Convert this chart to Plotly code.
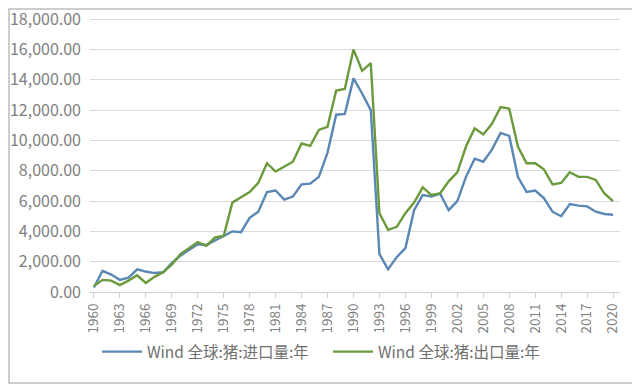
import plotly.graph_objects as go

years = list(range(1960, 2021))

import_vals = [300, 1400, 1150, 800, 950, 1500, 1350, 1250, 1300, 1900,
               2400, 2750, 3150, 3100, 3400, 3700, 4000, 3950, 4900, 5300,
               6600, 6700, 6100, 6300, 7100, 7150, 7600, 9200, 11700, 11750,
               14100, 13100, 12000, 2500, 1500, 2300, 2900, 5400, 6400, 6300,
               6500, 5400, 6000, 7600, 8800, 8600, 9400, 10500, 10300, 7600,
               6600, 6700, 6200, 5300, 5000, 5800, 5700, 5650, 5300, 5150,
               5100]

export_vals = [400, 800, 750, 450, 750, 1100, 600, 1000, 1300, 1800,
               2500, 2900, 3300, 3050, 3600, 3700, 5900, 6250, 6600, 7200,
               8500, 7950, 8300, 8600, 9800, 9650, 10700, 10900, 13300, 13400,
               16000, 14600, 15100, 5200, 4100, 4300, 5200, 5900, 6900, 6400,
               6500, 7300, 7900, 9600, 10800, 10400, 11100, 12200, 12100, 9600,
               8500, 8500, 8100, 7100, 7200, 7900, 7600, 7600, 7400, 6500,
               6000]

series_names = ["Wind 全球:猪:进口量:年", "Wind 全球:猪:出口量:年"]
x_ticks = list(range(1960, 2021, 3))
y_ticks = list(range(0, 18001, 2000))

font_family = "Noto Sans CJK SC, Noto Sans, sans-serif"
grey = "#808080"

fig = go.Figure()
fig.add_trace(go.Scatter(x=years, y=import_vals, mode="lines", name=series_names[0],
                         line=dict(color="#5a87b4", width=2.4)))
fig.add_trace(go.Scatter(x=years, y=export_vals, mode="lines", name=series_names[1],
                         line=dict(color="#6b9a3c", width=2.4)))

fig.update_layout(
    width=632, height=376,
    margin=dict(l=82, r=20, t=9, b=92, autoexpand=False),
    paper_bgcolor="white", plot_bgcolor="white",
    font=dict(family=font_family, size=13, color=grey),
    showlegend=True,
    legend=dict(orientation="h", x=(97 - 90) / 530, xanchor="left",
                y=-60 / 275, yanchor="middle", bgcolor="rgba(0,0,0,0)",
                font=dict(size=15.5, color="#707070"), itemwidth=40,
                entrywidth=176, entrywidthmode="pixels",
                traceorder="normal"),
    xaxis=dict(range=[1959.55, 2020.8], tickmode="array", tickvals=x_ticks,
               ticktext=[str(t) for t in x_ticks], tickangle=-90,
               showgrid=False, zeroline=False, showline=True, linecolor="#d0d0d0",
               linewidth=1, ticks="outside", ticklen=5, tickcolor="#d0d0d0",
               tickfont=dict(size=13.5, color=grey), automargin=False),
    yaxis=dict(range=[0, 18150], tickmode="array", tickvals=y_ticks,
               tickformat=",.2f", showgrid=True, gridcolor="#d9d9d9", gridwidth=1,
               zeroline=False, showline=False, ticks="", ticklen=0,
               ticklabelstandoff=8, ticklabeloverflow="allow",
               tickfont=dict(size=16, color=grey), automargin=False),
    shapes=[dict(type="rect", xref="paper", yref="paper",
                 x0=-81 / 530, x1=1 + 18 / 530, y0=-91 / 275, y1=1 + 8 / 275,
                 line=dict(color="#bdbdbd", width=1.5), fillcolor="rgba(0,0,0,0)",
                 layer="above")],
)

fig.write_html("out.html")
